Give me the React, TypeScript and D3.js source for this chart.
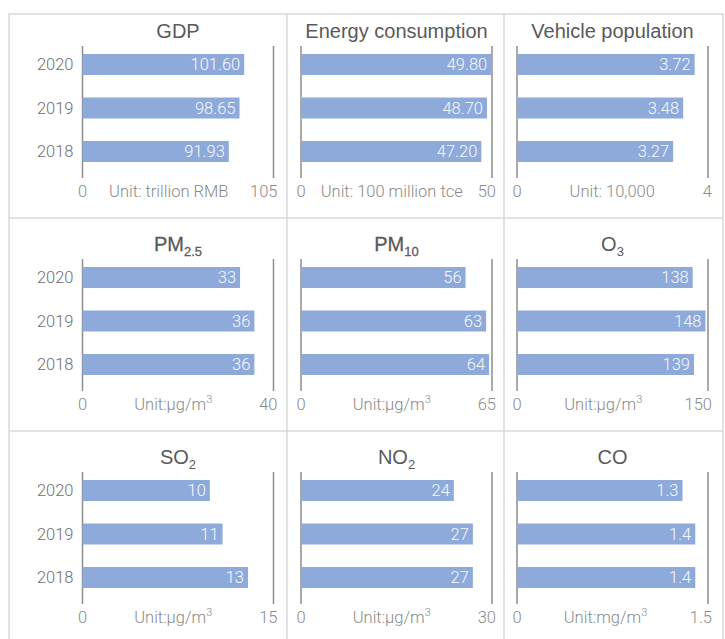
import React from "react";
import * as d3 from "d3";

// Years shown on each panel's category axis (top to bottom)
const years = ["2020", "2019", "2018"];

// Panel titles with optional subscripts (chemical / particle notation)
const titleMain = ["GDP", "Energy consumption", "Vehicle population", "PM", "PM", "O", "SO", "NO", "CO"];
const titleSub = ["", "", "", "2.5", "10", "3", "2", "2", ""];

// Values per panel, ordered like `years`
const gdp = [101.6, 98.65, 91.93];
const energy = [49.8, 48.7, 47.2];
const vehicles = [3.72, 3.48, 3.27];
const pm25 = [33, 36, 36];
const pm10 = [56, 63, 64];
const o3 = [138, 148, 139];
const so2 = [10, 11, 13];
const no2 = [24, 27, 27];
const co = [1.3, 1.4, 1.4];
const seriesValues = [gdp, energy, vehicles, pm25, pm10, o3, so2, no2, co];

// Decimal places used for the in-bar value labels
const valueDecimals = [2, 2, 2, 0, 0, 0, 0, 0, 1];

// Value-axis extent and its end tick label
const axisMax = [120, 50, 4, 40, 65, 150, 15, 30, 1.5];
const maxTickLabel = ["105", "50", "4", "40", "65", "150", "15", "30", "1.5"];

// Unit captions (with optional superscript)
const unitMain = [
  "Unit: trillion RMB",
  "Unit: 100 million tce",
  "Unit: 10,000",
  "Unit:μg/m",
  "Unit:μg/m",
  "Unit:μg/m",
  "Unit:μg/m",
  "Unit:μg/m",
  "Unit:mg/m",
];
const unitSup = ["", "", "", "3", "3", "3", "3", "3", "3"];

// Layout
const W = 725;
const H = 639;
const TITLE_FONT = "'Liberation Sans', Arial, sans-serif";
const LABEL_FONT = "Roboto, 'Liberation Sans', Arial, sans-serif";
const colEdges = [9, 287, 504, 723];
const rowEdges = [14, 218, 431, 644];
const rowOrigin = [5, 218, 431];
const axisX = [82.5, 301, 517];
const plotW = 191;
const BAR = "#8eaadb";
const LABEL_GRAY = "#8a8a8a";

function Panel({ idx }: { idx: number }) {
  const col = idx % 3;
  const row = Math.floor(idx / 3);
  const top = rowOrigin[row];
  const x0 = axisX[col];
  const x = d3.scaleLinear().domain([0, axisMax[idx]]).range([x0, x0 + plotW]);
  const y = d3
    .scaleBand<string>()
    .domain(years)
    .range([top + 37.75, top + 168.25])
    .paddingInner(0.517)
    .paddingOuter(0.2585);
  const fmt = d3.format(`.${valueDecimals[idx]}f`);
  const vals = seriesValues[idx];
  const xEnd = x(axisMax[idx]);
  const cx = x0 + plotW / 2;

  // unit caption sits centred between the two end tick labels
  const maxLblW = maxTickLabel[idx].length * 9 - (maxTickLabel[idx].includes(".") ? 4.5 : 0);
  const unitCx = (x0 + 4.5 + (xEnd + 4 - maxLblW)) / 2;
  const tickBase = top + 191.5;
  const isPM = titleMain[idx] === "PM";

  return (
    <g>
      <text
        x={cx}
        y={top + 33}
        textAnchor="middle"
        fontFamily={TITLE_FONT}
        fontSize={20}
        fill="#5a5a5a"
        stroke={isPM ? "#5a5a5a" : "none"}
        strokeWidth={isPM ? 0.3 : 0}
      >
        {titleMain[idx]}
        {titleSub[idx] && (
          <tspan fontSize={13} dy={4.5}>
            {titleSub[idx]}
          </tspan>
        )}
      </text>

      <line x1={x0} x2={x0} y1={top + 41} y2={top + 173} stroke="#8c8c8c" strokeWidth={1.5} />
      <line x1={xEnd} x2={xEnd} y1={top + 41} y2={top + 173} stroke="#8c8c8c" strokeWidth={1.5} />

      {years.map((yr, i) => (
        <g key={yr}>
          <rect x={x(0)} y={y(yr)} width={x(vals[i]) - x(0)} height={y.bandwidth()} fill={BAR} />
          <text
            x={x(vals[i]) - 4}
            y={(y(yr) as number) + y.bandwidth() / 2 + 5.8}
            textAnchor="end"
            fontFamily={LABEL_FONT}
            fontWeight={300}
            fontSize={16.5}
            fill="#f7f9fd"
          >
            {fmt(vals[i])}
          </text>
          {col === 0 && (
            <text
              x={x0 - 9}
              y={(y(yr) as number) + y.bandwidth() / 2 + 5.8}
              textAnchor="end"
              fontFamily={LABEL_FONT}
              fontWeight={300}
              fontSize={16.5}
              fill="#6f6f6f"
            >
              {yr}
            </text>
          )}
        </g>
      ))}

      <text x={x(0)} y={tickBase} textAnchor="middle" fontFamily={LABEL_FONT} fontWeight={300} fontSize={16.5} fill={LABEL_GRAY}>
        0
      </text>
      <text x={xEnd + 4} y={tickBase} textAnchor="end" fontFamily={LABEL_FONT} fontWeight={300} fontSize={16.5} fill={LABEL_GRAY}>
        {maxTickLabel[idx]}
      </text>
      <text x={unitCx} y={tickBase} textAnchor="middle" fontFamily={LABEL_FONT} fontWeight={300} fontSize={16.5} fill={LABEL_GRAY}>
        {unitMain[idx]}
        {unitSup[idx] && (
          <tspan fontSize={11} dy={-7}>
            {unitSup[idx]}
          </tspan>
        )}
      </text>
    </g>
  );
}

export default function App() {
  const grid = "#d9d9d9";
  return (
    <svg
      width={W}
      height={H}
      style={{ position: "absolute", left: 0, top: 0, background: "#ffffff" }}
    >
      <rect x={0} y={0} width={W} height={H} fill="#ffffff" />
      <rect
        x={colEdges[0]}
        y={rowEdges[0]}
        width={colEdges[3] - colEdges[0]}
        height={rowEdges[3] - rowEdges[0]}
        fill="none"
        stroke={grid}
        strokeWidth={1.5}
      />
      {[1, 2].map((c) => (
        <line key={`c${c}`} x1={colEdges[c]} x2={colEdges[c]} y1={rowEdges[0]} y2={rowEdges[3]} stroke={grid} strokeWidth={1.5} />
      ))}
      {[1, 2].map((r) => (
        <line key={`r${r}`} x1={colEdges[0]} x2={colEdges[3]} y1={rowEdges[r]} y2={rowEdges[r]} stroke={grid} strokeWidth={1.5} />
      ))}
      {seriesValues.map((_, i) => (
        <Panel key={i} idx={i} />
      ))}
    </svg>
  );
}
